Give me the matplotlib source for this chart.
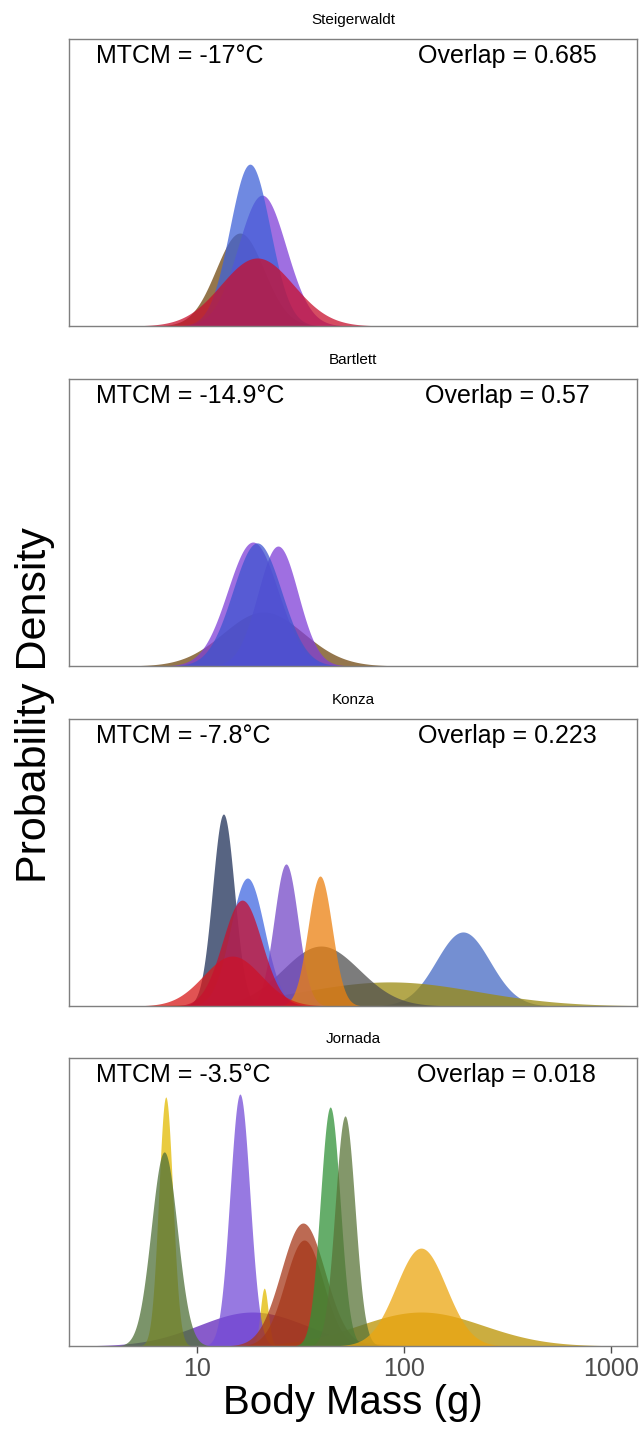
import numpy as np
import matplotlib
matplotlib.use("Agg")
import matplotlib.pyplot as plt

plt.rcParams['font.family'] = ['Liberation Sans', 'DejaVu Sans']

SITES = ["Steigerwaldt", "Bartlett", "Konza", "Jornada"]
MTCM = ["-17", "-14.9", "-7.8", "-3.5"]
OVERLAP = ["0.685", "0.57", "0.223", "0.018"]

# per species: centre of body-mass density (g), sd of log10 mass, peak height
steiger_mass = [16.1, 20.6, 18.0, 19.5]
steiger_sd = [0.116, 0.116, 0.097, 0.175]
steiger_peak = [0.324, 0.456, 0.564, 0.237]

bartlett_mass = [20.9, 24.6, 18.6, 19.5]
bartlett_sd = [0.195, 0.097, 0.122, 0.118]
bartlett_peak = [0.188, 0.418, 0.432, 0.429]

konza_mass = [193, 85.5, 39.7, 13.4, 17.5, 26.9, 39.3, 14.8, 16.5]
konza_sd = [0.130, 0.42, 0.185, 0.053, 0.082, 0.058, 0.058, 0.14, 0.095]
konza_peak = [0.258, 0.084, 0.209, 0.669, 0.446, 0.495, 0.453, 0.174, 0.369]

jornada_mass = [18.5, 121, 7.05, 6.93, 21.1, 16.1, 32.5, 32.9, 44.0, 51.9, 121]
jornada_sd = [0.26, 0.30, 0.034, 0.063, 0.019, 0.048, 0.106, 0.092, 0.048, 0.048, 0.121]
jornada_peak = [0.118, 0.118, 0.865, 0.674, 0.201, 0.875, 0.427, 0.368, 0.83, 0.799, 0.34]

# colours, in drawing order
steiger_colors = ["#704810", "#7F3FD8", "#3F62D8", "#C8102E"]
bartlett_colors = ["#704810", "#7F3FD8", "#7F3FD8", "#3F55D0"]
konza_colors = ["#456AC4", "#9A8A10", "#505050", "#1F3058", "#4169E1",
                "#7448C8", "#EC8110", "#D81A1A", "#C8102E"]
jornada_colors = ["#6024BA", "#BA9200", "#E2BA00", "#4F7038", "#E2BA00", "#744CD8",
                  "#A6381A", "#A6381A", "#319238", "#597438", "#ECA610"]

panels = [
    (steiger_mass, steiger_sd, steiger_peak, steiger_colors),
    (bartlett_mass, bartlett_sd, bartlett_peak, bartlett_colors),
    (konza_mass, konza_sd, konza_peak, konza_colors),
    (jornada_mass, jornada_sd, jornada_peak, jornada_colors),
]

XMIN, XMAX = 2.4, 1340
grid = np.linspace(np.log10(XMIN) - 0.1, np.log10(XMAX) + 0.1, 1200)

W, H = 643, 1429
fig = plt.figure(figsize=(W / 100, H / 100), dpi=100)

left = 69 / W
width = (637 - 69) / W
tops = [39, 379, 719, 1058]
bottoms = [326, 666, 1006, 1346]

axes = []
for i, (mass, sd, peak, cols) in enumerate(panels):
    ax = fig.add_axes([left, 1 - bottoms[i] / H, width, (bottoms[i] - tops[i]) / H])
    for m, s, p, c in zip(mass, sd, peak, cols):
        dens = p * np.exp(-0.5 * ((grid - np.log10(m)) / s) ** 2)
        ax.fill_between(10 ** grid, 0, dens, color=c, alpha=0.75, lw=0)
    ax.set_xscale("log")
    ax.set_xlim(XMIN, XMAX)
    ax.set_ylim(0, 1)
    ax.set_yticks([])
    for sp in ax.spines.values():
        sp.set_color("#7f7f7f")
        sp.set_linewidth(1.0)
    ax.set_title(SITES[i], fontsize=11, pad=11)
    ax.text(0.0475, 0.94, f"MTCM = {MTCM[i]}°C", transform=ax.transAxes,
            fontsize=18, ha="left", va="center")
    ax.text(0.771, 0.94, f"Overlap = {OVERLAP[i]}", transform=ax.transAxes,
            fontsize=18, ha="center", va="center")
    if i < 3:
        ax.set_xticks([])
        ax.xaxis.set_minor_locator(matplotlib.ticker.NullLocator())
    axes.append(ax)

ax = axes[-1]
ax.set_xticks([10, 100, 1000])
ax.set_xticklabels(["10", "100", "1000"])
ax.xaxis.set_minor_locator(matplotlib.ticker.NullLocator())
ax.tick_params(axis="x", length=5, width=1, color="#4d4d4d", labelcolor="#4d4d4d",
               labelsize=18, pad=3)
ax.set_xlabel("Body Mass (g)", fontsize=29, labelpad=2)

fig.text(35 / W, 1 - 705 / H, "Probability Density", rotation=90,
         fontsize=31, ha="center", va="center")

fig.savefig("out.png", dpi=100)
